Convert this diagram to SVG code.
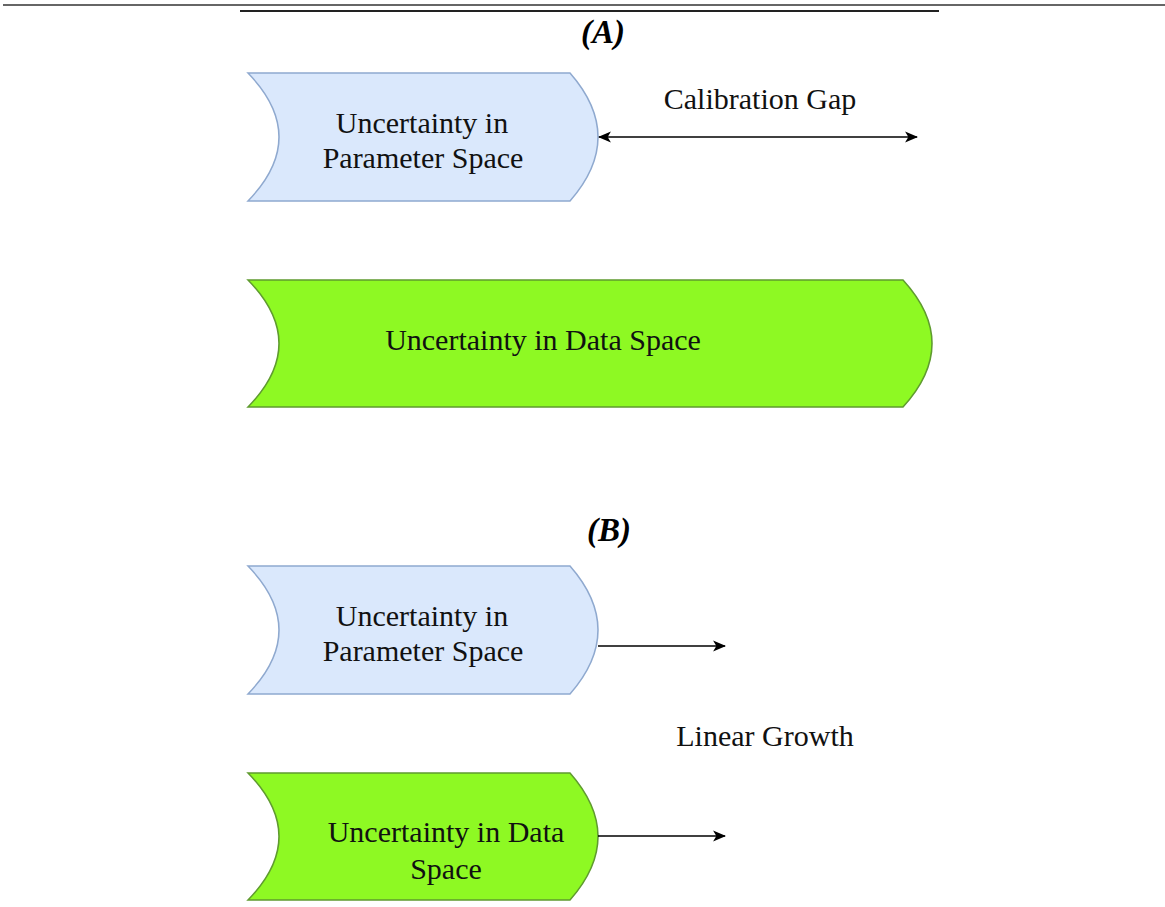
<svg xmlns="http://www.w3.org/2000/svg" width="1165" height="907" viewBox="0 0 1165 907">
<defs>
<style>
.t{font-family:"Liberation Serif","Times New Roman",serif;font-size:30px;fill:#111;text-anchor:middle}
.h{font-family:"Liberation Serif","Times New Roman",serif;font-size:33px;font-weight:bold;font-style:italic;fill:#000;text-anchor:middle}
.blue{fill:#dae8fc;stroke:#8fa9cf;stroke-width:1.5}
.green{fill:#8ef923;stroke:#5f9b2f;stroke-width:1.5}
.c{fill:none;stroke:#000;stroke-width:1.6}
</style>
<marker id="ah" viewBox="0 0 12 12" refX="11" refY="6" markerWidth="13" markerHeight="13" markerUnits="userSpaceOnUse" orient="auto-start-reverse">
<path d="M0,1 L12,6 L0,11 L3,6 Z" fill="#000"/>
</marker>
</defs>
<rect width="1165" height="907" fill="#fff"/>
<line x1="3" y1="5" x2="1165" y2="5" stroke="#666" stroke-width="2"/>
<line x1="240" y1="11" x2="939" y2="11" stroke="#222" stroke-width="2"/>
<text class="h" x="603" y="43">(A)</text>
<text class="h" x="609" y="541">(B)</text>
<g id="nodeA1">
<path class="blue" d="M248,73 L570,73 Q626,137 570,201 L248,201 Q310,137 248,73 Z"/>
<text class="t" x="422" y="133">Uncertainty in</text>
<text class="t" x="423" y="168">Parameter Space</text>
</g>
<g id="nodeA2">
<path class="green" d="M248,280 L903,280 Q961,343.5 903,407 L248,407 Q310,343.5 248,280 Z"/>
<text class="t" x="543" y="350">Uncertainty in Data Space</text>
</g>
<g id="nodeB1">
<path class="blue" d="M248,566 L570,566 Q626,630 570,694 L248,694 Q310,630 248,566 Z"/>
<text class="t" x="422" y="626">Uncertainty in</text>
<text class="t" x="423" y="661">Parameter Space</text>
</g>
<g id="nodeB2">
<path class="green" d="M248,773 L570,773 Q626,836.5 570,900 L248,900 Q310,836.5 248,773 Z"/>
<text class="t" x="446" y="842">Uncertainty in Data</text>
<text class="t" x="446" y="879">Space</text>
</g>
<g id="connectors">
<line class="c" x1="599" y1="137" x2="917" y2="137" marker-start="url(#ah)" marker-end="url(#ah)"/>
<line class="c" x1="598" y1="646" x2="725" y2="646" marker-end="url(#ah)"/>
<line class="c" x1="598" y1="836" x2="725" y2="836" marker-end="url(#ah)"/>
<text class="t" x="760" y="109">Calibration Gap</text>
<text class="t" x="765" y="746">Linear Growth</text>
</g>
</svg>
